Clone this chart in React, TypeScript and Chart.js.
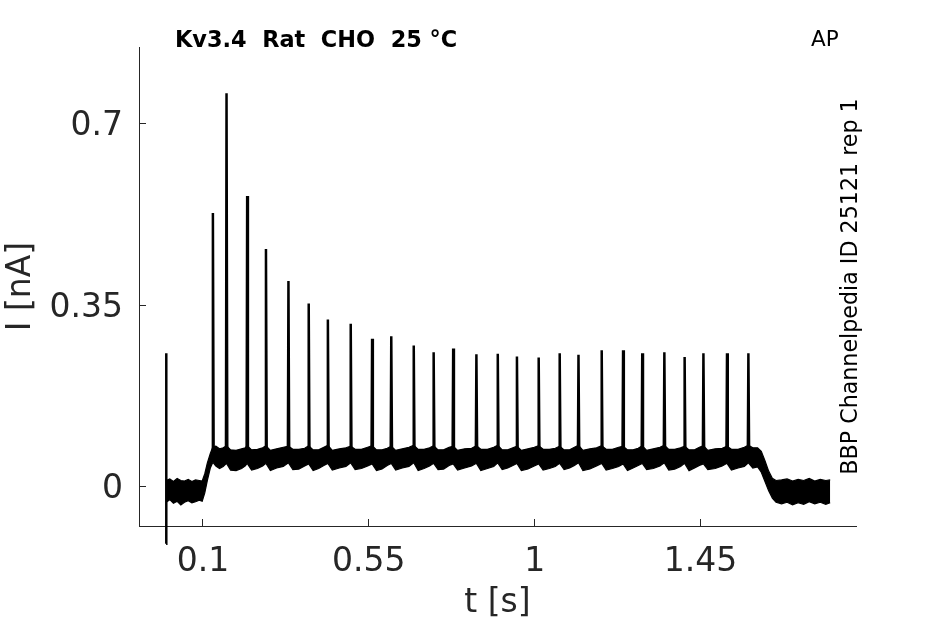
import React, { useEffect, useRef } from "react";
import { Chart, registerables } from "chart.js";

Chart.register(...registerables);

// ---- axis ticks ----
const X_TICKS = [0.1, 0.55, 1, 1.45];
const Y_TICKS = [0, 0.35, 0.7];
const X_MIN = -0.0735;
const X_MAX = 1.872;
const Y_MIN = -0.0757;
const Y_MAX = 0.847;

// ---- texts ----
const TITLE = "Kv3.4  Rat  CHO  25 \u00B0C";
const PROTOCOL = "AP";
const SIDE_TEXT = "BBP Channelpedia ID 25121 rep 1";
const X_LABEL = "t [s]";
const Y_LABEL = "I [nA]";

// ---- spikes (time in s, peak current in nA) ----
const SPIKE_TIMES = [
  0.127, 0.164, 0.22, 0.271, 0.332, 0.387, 0.439, 0.501, 0.559, 0.611, 0.672,
  0.726, 0.779, 0.842, 0.9, 0.952, 1.011, 1.068, 1.119, 1.182, 1.24, 1.292,
  1.352, 1.407, 1.458, 1.522, 1.58,
];
const SPIKE_PEAKS = [
  0.527, 0.758, 0.56, 0.458, 0.396, 0.353, 0.322, 0.314, 0.285, 0.29, 0.272,
  0.259, 0.266, 0.255, 0.256, 0.251, 0.249, 0.257, 0.254, 0.263, 0.263, 0.257,
  0.259, 0.25, 0.257, 0.257, 0.257,
];
const SPIKE_BASE = 0.064;

// ---- capacitive artifact at t = 0 ----
const ARTIFACT_T = [0, 0.0003, 0.0008];
const ARTIFACT_I = [-0.11, 0.257, 0.0];

// ---- noisy baseline band (time, lower edge, upper edge) ----
const BAND_T = [
  0.0, 0.01, 0.02, 0.03, 0.04, 0.05, 0.06, 0.07, 0.08, 0.09, 0.098,
  0.105, 0.112, 0.12,
  0.127, 0.135, 0.145, 0.155, 0.164, 0.175, 0.19, 0.205, 0.215, 0.22,
  0.232, 0.248, 0.262, 0.271,
  0.283, 0.3, 0.318, 0.332,
  0.344, 0.36, 0.376, 0.387,
  0.399, 0.414, 0.428, 0.439,
  0.451, 0.47, 0.488, 0.501,
  0.513, 0.53, 0.547, 0.559,
  0.571, 0.586, 0.6, 0.611,
  0.623, 0.641, 0.659, 0.672,
  0.684, 0.7, 0.715, 0.726,
  0.738, 0.753, 0.768, 0.779,
  0.791, 0.81, 0.829, 0.842,
  0.854, 0.872, 0.889, 0.9,
  0.912, 0.927, 0.941, 0.952,
  0.964, 0.982, 0.999, 1.011,
  1.023, 1.04, 1.056, 1.068,
  1.08, 1.095, 1.108, 1.119,
  1.131, 1.15, 1.168, 1.182,
  1.194, 1.211, 1.228, 1.24,
  1.252, 1.267, 1.281, 1.292,
  1.304, 1.322, 1.34, 1.352,
  1.364, 1.38, 1.396, 1.407,
  1.419, 1.434, 1.447, 1.458,
  1.47, 1.49, 1.509, 1.522,
  1.534, 1.552, 1.569, 1.58,
  1.592, 1.605, 1.615, 1.625, 1.635, 1.645, 1.655, 1.67, 1.685, 1.7, 1.715,
  1.73, 1.745, 1.76, 1.775, 1.79, 1.802,
];
const BAND_LO = [
  -0.03, -0.025, -0.032, -0.028, -0.035, -0.03, -0.027, -0.031, -0.029, -0.026, -0.028,
  -0.012, 0.012, 0.036,
  0.047, 0.04, 0.035, 0.039, 0.045, 0.032, 0.031, 0.035, 0.04, 0.045,
  0.032, 0.035, 0.04, 0.045,
  0.031, 0.036, 0.039, 0.046,
  0.033, 0.034, 0.04, 0.044,
  0.031, 0.035, 0.041, 0.045,
  0.032, 0.036, 0.039, 0.046,
  0.033, 0.035, 0.04, 0.044,
  0.031, 0.034, 0.041, 0.045,
  0.032, 0.036, 0.039, 0.046,
  0.031, 0.035, 0.04, 0.045,
  0.033, 0.034, 0.041, 0.044,
  0.032, 0.036, 0.04, 0.045,
  0.031, 0.035, 0.039, 0.046,
  0.033, 0.036, 0.041, 0.045,
  0.031, 0.034, 0.04, 0.044,
  0.032, 0.035, 0.039, 0.045,
  0.033, 0.036, 0.041, 0.046,
  0.031, 0.034, 0.04, 0.045,
  0.032, 0.035, 0.039, 0.044,
  0.031, 0.036, 0.041, 0.045,
  0.033, 0.035, 0.04, 0.046,
  0.032, 0.034, 0.039, 0.045,
  0.031, 0.036, 0.041, 0.044,
  0.033, 0.035, 0.04, 0.045,
  0.032, 0.036, 0.039, 0.046,
  0.036, 0.038, 0.028, 0.01, -0.008, -0.022, -0.03, -0.033, -0.03, -0.035, -0.031,
  -0.034, -0.029, -0.033, -0.03, -0.034, -0.031,
];
const BAND_HI = [
  0.012, 0.015, 0.01, 0.016, 0.012, 0.011, 0.014, 0.01, 0.013, 0.012, 0.011,
  0.025, 0.046, 0.064,
  0.077, 0.078, 0.073, 0.075, 0.079, 0.071, 0.07, 0.073, 0.075, 0.079,
  0.071, 0.072, 0.075, 0.079,
  0.07, 0.073, 0.076, 0.078,
  0.072, 0.072, 0.074, 0.079,
  0.071, 0.071, 0.076, 0.08,
  0.07, 0.073, 0.075, 0.078,
  0.072, 0.072, 0.076, 0.079,
  0.071, 0.071, 0.074, 0.078,
  0.07, 0.073, 0.076, 0.08,
  0.072, 0.072, 0.075, 0.079,
  0.071, 0.071, 0.076, 0.078,
  0.07, 0.073, 0.074, 0.079,
  0.072, 0.072, 0.076, 0.08,
  0.071, 0.071, 0.075, 0.078,
  0.07, 0.073, 0.076, 0.079,
  0.072, 0.072, 0.074, 0.078,
  0.071, 0.071, 0.076, 0.08,
  0.07, 0.073, 0.075, 0.079,
  0.072, 0.072, 0.076, 0.078,
  0.071, 0.071, 0.074, 0.079,
  0.07, 0.073, 0.076, 0.08,
  0.072, 0.072, 0.075, 0.078,
  0.071, 0.071, 0.076, 0.079,
  0.07, 0.073, 0.074, 0.078,
  0.072, 0.072, 0.076, 0.08,
  0.075, 0.075, 0.068, 0.05, 0.03, 0.016, 0.012, 0.013, 0.015, 0.011, 0.014,
  0.012, 0.016, 0.011, 0.014, 0.012, 0.013,
];

const SPIKE_RISE = 0.0015;
const SPIKE_FALL = 0.002;

const FONT = "'DejaVu Sans', 'Liberation Sans', sans-serif";
const AXIS_COLOR = "#262626";

const textPlugin = {
  id: "annotTexts",
  afterDraw(chart: any) {
    const { ctx, chartArea } = chart;
    ctx.save();
    ctx.fillStyle = "#000";
    ctx.textAlign = "left";
    ctx.textBaseline = "alphabetic";
    ctx.font = `bold 22.4px ${FONT}`;
    ctx.fillText(TITLE, chartArea.left + 36, 47);
    ctx.font = `21.5px ${FONT}`;
    ctx.fillText(PROTOCOL, 811, 46);
    ctx.translate(857, (chartArea.top + chartArea.bottom) / 2);
    ctx.rotate(-Math.PI / 2);
    ctx.textAlign = "center";
    ctx.font = `22.2px ${FONT}`;
    ctx.fillText(SIDE_TEXT, 0, 0);
    ctx.restore();
  },
};

export default function App() {
  const ref = useRef<HTMLCanvasElement | null>(null);

  useEffect(() => {
    if (!ref.current) return;

    const lower = BAND_T.map((t, i) => ({ x: t, y: BAND_LO[i] }));
    const upper = BAND_T.map((t, i) => ({ x: t, y: BAND_HI[i] }));
    const spikes: { x: number; y: number | null }[] = [];
    SPIKE_TIMES.forEach((t, i) => {
      spikes.push({ x: t - SPIKE_RISE, y: SPIKE_BASE });
      spikes.push({ x: t, y: SPIKE_PEAKS[i] });
      spikes.push({ x: t + SPIKE_FALL, y: SPIKE_BASE });
      spikes.push({ x: t + SPIKE_FALL, y: null });
    });
    const artifact = ARTIFACT_T.map((t, i) => ({ x: t, y: ARTIFACT_I[i] }));

    const chart = new Chart(ref.current, {
      type: "line",
      data: {
        datasets: [
          {
            data: lower,
            borderColor: "#000",
            borderWidth: 1.2,
            pointRadius: 0,
            fill: false,
            tension: 0,
          },
          {
            data: upper,
            borderColor: "#000",
            borderWidth: 1.2,
            pointRadius: 0,
            backgroundColor: "#000",
            fill: "-1",
            tension: 0,
          },
          {
            data: spikes as any,
            borderColor: "#000",
            borderWidth: 2.5,
            pointRadius: 0,
            fill: false,
            spanGaps: false,
            tension: 0,
          },
          {
            data: artifact,
            borderColor: "#000",
            borderWidth: 2.5,
            pointRadius: 0,
            fill: false,
            tension: 0,
            clip: false as any,
          },
        ],
      },
      options: {
        animation: false,
        responsive: false,
        devicePixelRatio: 1,
        layout: { padding: { left: 0, top: 47, right: 89, bottom: 0 } },
        plugins: {
          legend: { display: false },
          tooltip: { enabled: false },
        },
        scales: {
          x: {
            type: "linear",
            min: X_MIN,
            max: X_MAX,
            afterBuildTicks: (s: any) => {
              s.ticks = X_TICKS.map((v) => ({ value: v }));
            },
            afterFit: (s: any) => {
              s.height = 98;
            },
            ticks: {
              callback: (v: any) => String(v),
              color: AXIS_COLOR,
              font: { family: FONT, size: 33 },
              padding: 24,
              maxRotation: 0,
              autoSkip: false,
            },
            grid: {
              drawOnChartArea: false,
              drawTicks: true,
              tickLength: -7,
              color: AXIS_COLOR,
            },
            border: { display: true, color: AXIS_COLOR, width: 1 },
            title: {
              display: true,
              text: X_LABEL,
              color: AXIS_COLOR,
              font: { family: FONT, size: 33 },
              padding: { top: 0, bottom: 1 },
            },
          },
          y: {
            type: "linear",
            min: Y_MIN,
            max: Y_MAX,
            afterBuildTicks: (s: any) => {
              s.ticks = Y_TICKS.map((v) => ({ value: v }));
            },
            afterFit: (s: any) => {
              s.width = 139;
            },
            ticks: {
              callback: (v: any) => String(v),
              color: AXIS_COLOR,
              font: { family: FONT, size: 33 },
              padding: 23,
              labelOffset: 3,
              autoSkip: false,
            },
            grid: {
              drawOnChartArea: false,
              drawTicks: true,
              tickLength: -7,
              color: AXIS_COLOR,
            },
            border: { display: true, color: AXIS_COLOR, width: 1 },
            title: {
              display: true,
              text: Y_LABEL,
              color: AXIS_COLOR,
              font: { family: FONT, size: 33 },
              padding: { top: 2, bottom: 0 },
            },
          },
        },
      },
      plugins: [textPlugin],
    });

    return () => chart.destroy();
  }, []);

  return (
    <div
      style={{
        position: "fixed",
        left: 0,
        top: 0,
        width: 945,
        height: 624,
        background: "#fff",
      }}
    >
      <canvas ref={ref} width={945} height={624} />
    </div>
  );
}
